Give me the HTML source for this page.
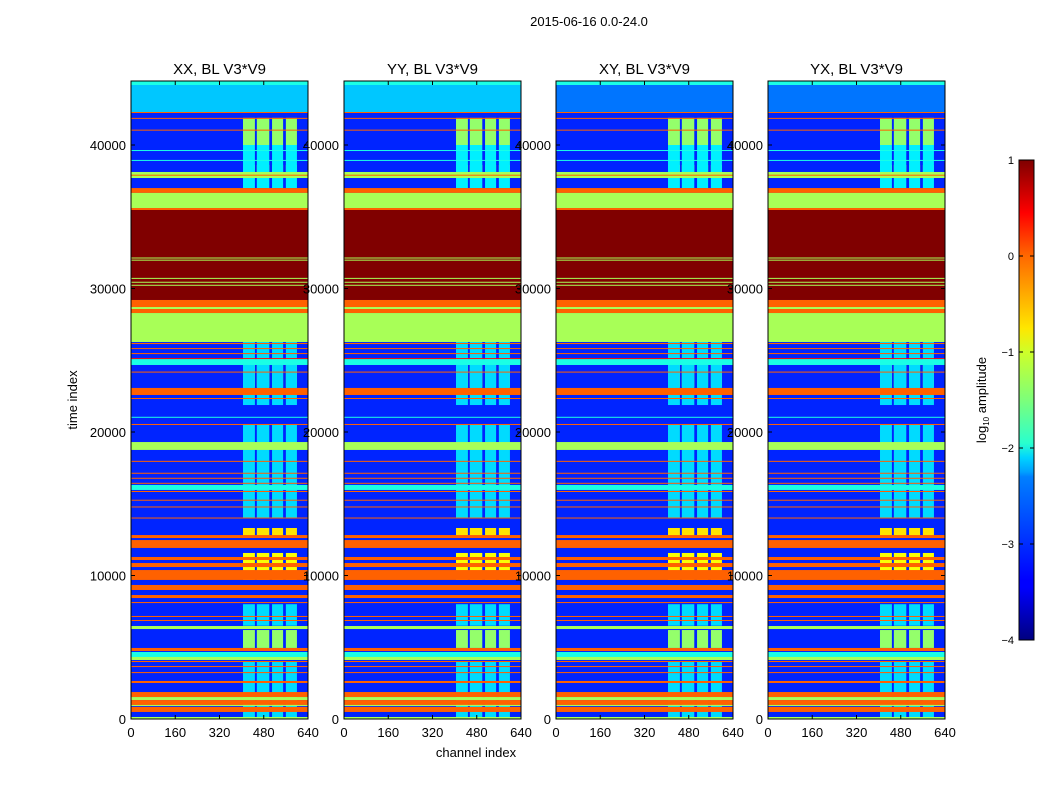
<!DOCTYPE html>
<html><head><meta charset="utf-8"><style>
body{margin:0;background:#fff;font-family:"Liberation Sans",sans-serif;}
svg text{font-family:"Liberation Sans",sans-serif;fill:#000;}
</style></head><body>
<svg id="fig" width="1050" height="800" xmlns="http://www.w3.org/2000/svg">
<rect width="1050" height="800" fill="#fff"/>
<text x="589" y="26" font-size="13" text-anchor="middle">2015-06-16 0.0-24.0</text>
<text x="476" y="757" font-size="13" text-anchor="middle">channel index</text>
<text transform="translate(77,400) rotate(-90)" font-size="13" text-anchor="middle">time index</text>
<g id="panels"></g>
<defs><linearGradient id="jetg" x1="0" y1="1" x2="0" y2="0">
<stop offset="0" stop-color="#00007f"/><stop offset="0.11" stop-color="#0000ff"/><stop offset="0.125" stop-color="#0000ff"/>
<stop offset="0.34" stop-color="#0080ff"/><stop offset="0.35" stop-color="#00a0ff"/><stop offset="0.38" stop-color="#00d4ff"/>
<stop offset="0.41" stop-color="#29ffce"/><stop offset="0.5" stop-color="#7dff7a"/><stop offset="0.6" stop-color="#ceff29"/>
<stop offset="0.65" stop-color="#ffe600"/><stop offset="0.8" stop-color="#ff6800"/><stop offset="0.89" stop-color="#ff0000"/><stop offset="1" stop-color="#7f0000"/>
</linearGradient></defs>
<g>
<rect x="1019" y="160" width="15" height="480" fill="url(#jetg)" stroke="#000" stroke-width="1"/>
<g id="cbticks"></g>
<text transform="translate(986,400) rotate(-90)" font-size="13" text-anchor="middle">log<tspan font-size="8" dy="3">10</tspan><tspan dy="-3"> amplitude</tspan></text>
</g>
</svg>
<script>
const titles=["XX, BL V3*V9","YY, BL V3*V9","XY, BL V3*V9","YX, BL V3*V9"];
const topLevel=[-2.4,-2.4,-2.8,-2.8];
const xTicks=[0,160,320,480,640];
const yTicks=[0,10000,20000,30000,40000];
const cbTicks=[1,0,-1,-2,-3,-4];
const O=-0.1,R=1,G=-1.3,C=-2.0;
// [tLow, tHigh, log10 amplitude]
const bands=[[44180,44460,C],[42300,44180,-2.4],[42230,42300,O],[41820,41890,O],[41000,41070,O],
[39580,39650,C],[38890,38960,C],[37700,38120,G],[37870,37930,O],[36660,37000,O],[35610,36660,G],[35470,35610,O],
[29200,35470,R],[32100,32160,G],[31950,32010,G],[30680,30740,G],[30400,30470,G],[30200,30260,G],
[28710,29200,O],[28570,28710,G],[28290,28570,O],[26270,28290,G],[26130,26200,O],[25780,25850,O],[25430,25500,O],[25080,25150,0.3],
[24670,25080,-2.0],[24140,24210,O],[22580,23070,O],[22300,22370,O],[21000,21060,C],[20490,20560,O],[18750,19300,G],
[17920,17990,O],[17090,17160,O],[16740,16810,O],[16390,16460,O],[15960,16310,-2.0],[15820,15890,O],[15210,15280,O],
[14740,14810,O],[13970,14040,O],[12610,12820,O],[11920,12470,O],[11080,11290,O],[10590,10870,O],[9690,10380,O],
[8990,9340,O],[8430,8640,O],[8080,8150,O],[7110,7180,O],[6830,6900,O],[6270,6480,G],[4740,4950,O],[4320,4670,C],
[4110,4320,G],[3970,4040,O],[3620,3690,O],[3200,3270,O],[2510,2650,O],[1530,1880,O],[1320,1530,G],[980,1320,O],
[900,980,G],[490,840,O],[0,140,G]];
// channel column blocks
const blockCols=[[405,448],[455,500],[510,550],[560,600]];
const blocks=[[40000,41890,-1.4],[38120,38610,-0.75],[23140,24670,-0.7],[12750,13310,-0.75],[9690,11570,-0.9],[4950,6200,-1.4],[21880,26270,-2.3],[14000,20500,-2.3],[0,4000,-2.3],[6500,8000,-2.3],[37000,40000,-2.2]];
const bgVal=-3.2;
function jet(v){let x=Math.max(0,Math.min(1,(v+4)/5));
 const f=(a)=>Math.max(0,Math.min(1,1.5-Math.abs(4*x-a)));
 return `rgb(${Math.round(255*f(3))},${Math.round(255*f(2))},${Math.round(255*f(1))})`;}
const NS="http://www.w3.org/2000/svg";
function mk(tag,attrs,parent){const e=document.createElementNS(NS,tag);for(const k in attrs)e.setAttribute(k,attrs[k]);parent.appendChild(e);return e;}
const lefts=[131,344,556,768],W=177,TOP=81,BOT=719,TMAX=44460,CMAX=640;
const root=document.getElementById('panels');
lefts.forEach((L,i)=>{
 const g=mk('g',{},root);
 
 
 const ys=t=>BOT-(t/TMAX)*(BOT-TOP), xs=c=>L+c/CMAX*W;
 const bg=mk('rect',{x:L,y:TOP,width:W,height:BOT-TOP,fill:jet(bgVal)},g);
 
 
 const tl=mk('rect',{x:L,y:ys(TMAX),width:W,height:ys(42300)-ys(TMAX),fill:jet(topLevel[i])},g);
 
 
 blocks.forEach(b=>blockCols.forEach(c=>{
  const r=mk('rect',{x:xs(c[0]),y:ys(b[1]),width:xs(c[1])-xs(c[0]),height:ys(b[0])-ys(b[1]),fill:jet(b[2])},g);
  
  
 }));
 bands.forEach((b,k)=>{
  const v=(k===1)?topLevel[i]:b[2];
  const r=mk('rect',{x:L,y:ys(b[1]),width:W,height:Math.max(1,ys(b[0])-ys(b[1])),fill:jet(v)},g);
  
  
 });
 mk('rect',{x:L,y:TOP,width:W,height:BOT-TOP,fill:'none',stroke:'#000','stroke-width':1},g);
 const t=mk('text',{x:L+W/2,y:74,'font-size':15,'text-anchor':'middle'},g);t.textContent=titles[i];
 
 
 xTicks.forEach(v=>{const x=xs(v);
  mk('line',{x1:x,x2:x,y1:BOT,y2:BOT-4,stroke:'#000'},g);mk('line',{x1:x,x2:x,y1:TOP,y2:TOP+4,stroke:'#000'},g);
  const tx=mk('text',{x:x,y:BOT+18,'font-size':13,'text-anchor':'middle'},g);tx.textContent=v;
  
  });
 yTicks.forEach(v=>{const y=ys(v);
  mk('line',{x1:L,x2:L+4,y1:y,y2:y,stroke:'#000'},g);mk('line',{x1:L+W,x2:L+W-4,y1:y,y2:y,stroke:'#000'},g);
  const ty=mk('text',{x:L-5,y:y+5,'font-size':13,'text-anchor':'end'},g);ty.textContent=v;
  
  });
});
const cb=document.getElementById('cbticks');
cbTicks.forEach(v=>{const y=640-(v+4)/5*480;
 mk('line',{x1:1019,x2:1023,y1:y,y2:y,stroke:'#000'},cb);mk('line',{x1:1030,x2:1034,y1:y,y2:y,stroke:'#000'},cb);
 const t=mk('text',{x:1014,y:y+4,'font-size':11,'text-anchor':'end'},cb);t.textContent=(v<0?'\u2212'+(-v):v);
 
 });
</script>
</body></html>
